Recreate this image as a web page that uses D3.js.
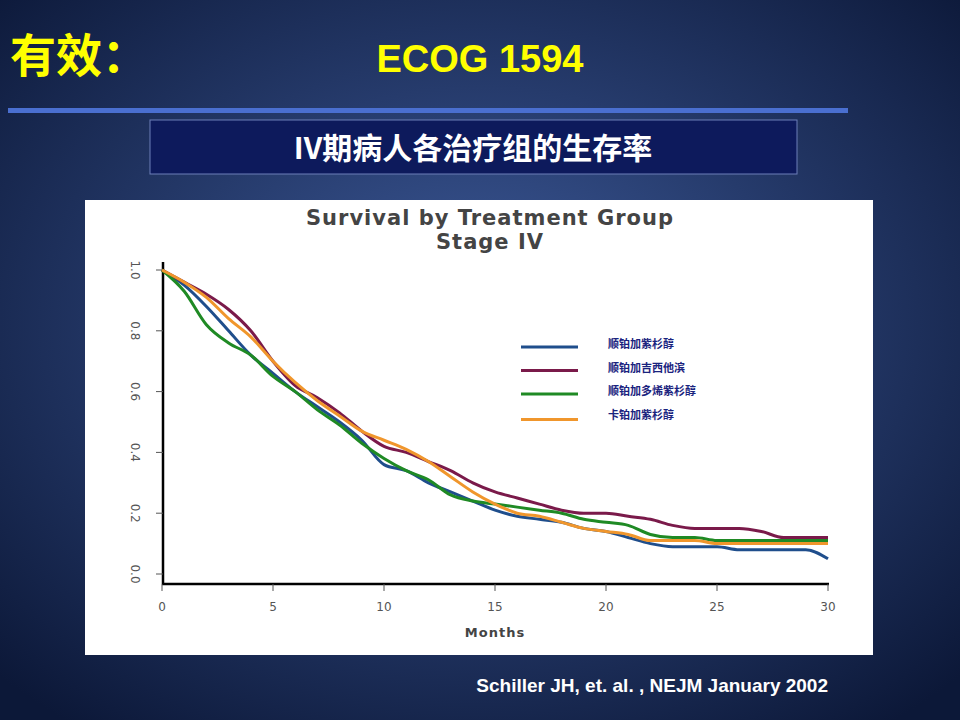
<!DOCTYPE html>
<html lang="en">
<head>
<meta charset="UTF-8">
<title>Survival by Treatment Group</title>
<script src="https://d3js.org/d3.v7.min.js"></script>
<style>
    body { margin: 0; width: 960px; height: 720px; overflow: hidden; }
    svg { display: block; }
</style>
</head>
<body>
<div id="chart"></div>
<script>
    // Survival curves (months -> proportion surviving)
    const months = [0, 1, 2, 3, 4, 5, 6, 7, 8, 9, 10, 11, 12, 13, 14, 15, 16, 17, 18, 19, 20, 21, 22, 23, 24, 25, 26, 27, 28, 29, 30];
    const blueVals   = [1.0, .95, .88, .80, .72, .66, .60, .55, .50, .44, .36, .34, .30, .27, .24, .21, .19, .18, .17, .15, .14, .12, .10, .09, .09, .09, .08, .08, .08, .08, .05];
    const purpleVals = [1.0, .96, .92, .87, .80, .70, .62, .58, .53, .47, .42, .40, .37, .34, .30, .27, .25, .23, .21, .20, .20, .19, .18, .16, .15, .15, .15, .14, .12, .12, .12];
    const greenVals  = [1.0, .93, .82, .76, .72, .65, .60, .54, .49, .43, .38, .34, .31, .26, .24, .23, .22, .21, .20, .18, .17, .16, .13, .12, .12, .11, .11, .11, .11, .11, .11];
    const orangeVals = [1.0, .96, .91, .84, .78, .70, .63, .57, .52, .47, .44, .41, .37, .32, .27, .23, .20, .19, .17, .15, .14, .13, .11, .11, .11, .10, .10, .10, .10, .10, .10];
    const seriesNames = ["顺铂加紫杉醇", "顺铂加吉西他滨", "顺铂加多烯紫杉醇", "卡铂加紫杉醇"];
    const seriesColors = ["#1f4e8c", "#7a1a4a", "#1f8a24", "#f0962c"];
    const xTicks = [0, 5, 10, 15, 20, 25, 30];
    const yTicks = [0, 0.2, 0.4, 0.6, 0.8, 1.0];

    const allSeries = [blueVals, purpleVals, greenVals, orangeVals];

    const svg = d3.select("#chart").append("svg").attr("width", 960).attr("height", 720);

    // slide background
    const defs = svg.append("defs");
    const grad = defs.append("radialGradient").attr("id", "bg").attr("cx", "50%").attr("cy", "45%").attr("r", "70%");
    grad.append("stop").attr("offset", "0%").attr("stop-color", "#3d5a9a");
    grad.append("stop").attr("offset", "100%").attr("stop-color", "#0c1838");
    svg.append("rect").attr("width", 960).attr("height", 720).attr("fill", "url(#bg)");

    svg.append("text").attr("x", 10).attr("y", 72).attr("fill", "#ffff00")
        .style("font", "bold 46px 'Noto Sans CJK SC'").text("有效：");
    svg.append("text").attr("x", 480).attr("y", 72).attr("text-anchor", "middle").attr("fill", "#ffff00")
        .style("font", "bold 38px 'Liberation Sans', Arial").text("ECOG 1594");
    svg.append("rect").attr("x", 8).attr("y", 108).attr("width", 840).attr("height", 5).attr("fill", "#4a6fd0");

    svg.append("rect").attr("x", 150).attr("y", 120).attr("width", 647).attr("height", 54)
        .attr("fill", "#0d1a5c").attr("stroke", "#6c7fb8").attr("stroke-width", 1);
    svg.append("text").attr("x", 473).attr("y", 159).attr("text-anchor", "middle").attr("fill", "#fff")
        .style("font", "bold 30px 'Noto Sans CJK SC'").text("IV期病人各治疗组的生存率");

    // white chart panel
    svg.append("rect").attr("x", 85).attr("y", 200).attr("width", 788).attr("height", 455).attr("fill", "#fff");
    svg.append("text").attr("x", 490).attr("y", 225).attr("text-anchor", "middle").attr("fill", "#444")
        .style("font", "bold 21px 'DejaVu Sans'").style("letter-spacing", "1px").text("Survival by Treatment Group");
    svg.append("text").attr("x", 490).attr("y", 249).attr("text-anchor", "middle").attr("fill", "#444")
        .style("font", "bold 21px 'DejaVu Sans'").style("letter-spacing", "1px").text("Stage IV");

    const x = d3.scaleLinear().domain([0, 30]).range([162, 828]);
    const y = d3.scaleLinear().domain([0, 1]).range([574, 270]);

    const g = svg.append("g");
    g.append("line").attr("x1", 163).attr("x2", 163).attr("y1", 262).attr("y2", 584).attr("stroke", "#000").attr("stroke-width", 2.5);
    g.append("line").attr("x1", 162).attr("x2", 829).attr("y1", 584).attr("y2", 584).attr("stroke", "#000").attr("stroke-width", 2.5);

    g.selectAll(".xt").data(xTicks).enter().append("line")
        .attr("x1", d => x(d)).attr("x2", d => x(d)).attr("y1", 584).attr("y2", 591).attr("stroke", "#555");
    g.selectAll(".xl").data(xTicks).enter().append("text")
        .attr("x", d => x(d)).attr("y", 611).attr("text-anchor", "middle").attr("fill", "#555")
        .style("font", "12px 'DejaVu Sans'").text(d => d);
    g.selectAll(".yt").data(yTicks).enter().append("line")
        .attr("x1", 156).attr("x2", 163).attr("y1", d => y(d)).attr("y2", d => y(d)).attr("stroke", "#555");
    g.selectAll(".yl").data(yTicks).enter().append("text")
        .attr("transform", d => `translate(131,${y(d)}) rotate(90)`).attr("text-anchor", "middle").attr("fill", "#555")
        .style("font", "12px 'DejaVu Sans'").text(d => d.toFixed(1));
    svg.append("text").attr("x", 495).attr("y", 637).attr("text-anchor", "middle").attr("fill", "#444")
        .style("font", "bold 13px 'DejaVu Sans'").style("letter-spacing", "1px").text("Months");

    const line = d3.line().x((d, i) => x(months[i])).y(d => y(d)).curve(d3.curveMonotoneX);
    allSeries.forEach((vals, k) => {
        g.append("path").attr("d", line(vals)).attr("fill", "none")
            .attr("stroke", seriesColors[k]).attr("stroke-width", 3);
    });

    // legend
    const lg = svg.append("g");
    seriesNames.forEach((name, k) => {
        const ly = 348 + k * 23.5;
        lg.append("line").attr("x1", 521).attr("x2", 578).attr("y1", ly - 1 + (k === 3 ? 2 : 0)).attr("y2", ly - 1 + (k === 3 ? 2 : 0))
            .attr("stroke", seriesColors[k]).attr("stroke-width", 3);
        lg.append("text").attr("x", 608).attr("y", ly - 4 + 4).attr("fill", "#1a237e")
            .style("font", "bold 11px 'Noto Sans CJK SC'").text(name);
    });

    svg.append("text").attr("x", 828).attr("y", 692).attr("text-anchor", "end").attr("fill", "#fff")
        .style("font", "bold 19px 'Liberation Sans', Arial").text("Schiller JH, et. al. , NEJM January 2002");
</script>
</body>
</html>
